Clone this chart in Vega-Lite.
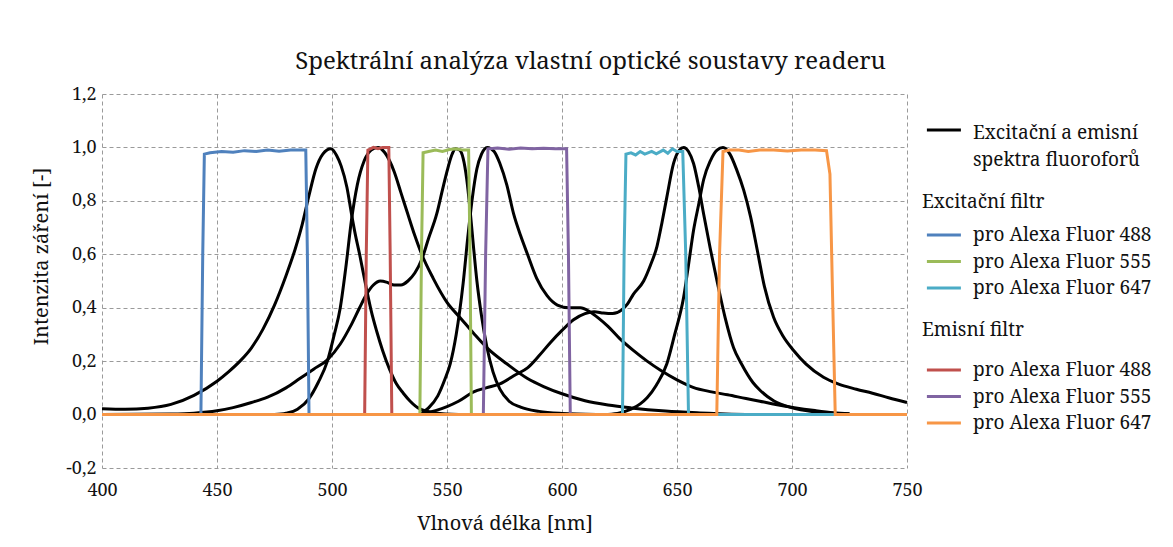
{
  "$schema": "https://vega.github.io/schema/vega-lite/v6.json",
  "width": 805,
  "height": 374,
  "autosize": "none",
  "padding": {"left": 102, "top": 94, "right": 266, "bottom": 79},
  "background": "white",
  "title": {"text": "Spektrální analýza vlastní optické soustavy readeru", "font": "Noto Serif", "fontSize": 24, "fontWeight": "normal", "color": "#111111", "anchor": "middle", "dx": 86, "baseline": "alphabetic", "offset": 29, "dy": 37},
  "datasets": {
    "spectra": [
      {"s":"e488","x":400,"y":0.022},{"s":"e488","x":410,"y":0.02},{"s":"e488","x":420,"y":0.024},{"s":"e488","x":430,"y":0.038},{"s":"e488","x":440,"y":0.072},{"s":"e488","x":450,"y":0.125},{"s":"e488","x":455,"y":0.16},{"s":"e488","x":460,"y":0.2},{"s":"e488","x":465,"y":0.25},{"s":"e488","x":470,"y":0.32},{"s":"e488","x":475,"y":0.41},{"s":"e488","x":480,"y":0.52},{"s":"e488","x":484,"y":0.62},{"s":"e488","x":487,"y":0.71},{"s":"e488","x":490,"y":0.82},{"s":"e488","x":493,"y":0.92},{"s":"e488","x":496,"y":0.975},{"s":"e488","x":499.5,"y":0.995},{"s":"e488","x":502,"y":0.97},{"s":"e488","x":504,"y":0.93},{"s":"e488","x":506.5,"y":0.85},{"s":"e488","x":508.5,"y":0.75},{"s":"e488","x":510,"y":0.68},{"s":"e488","x":512,"y":0.6},{"s":"e488","x":515,"y":0.47},{"s":"e488","x":517,"y":0.39},{"s":"e488","x":519.5,"y":0.31},{"s":"e488","x":522,"y":0.24},{"s":"e488","x":525,"y":0.17},{"s":"e488","x":528,"y":0.115},{"s":"e488","x":531,"y":0.08},{"s":"e488","x":534,"y":0.05},{"s":"e488","x":538,"y":0.022},{"s":"e488","x":545,"y":0.006},{"s":"e488","x":555,"y":0.0},
      {"s":"m488","x":475,"y":0.0},{"s":"m488","x":480,"y":0.005},{"s":"m488","x":485,"y":0.02},{"s":"m488","x":490,"y":0.06},{"s":"m488","x":494,"y":0.12},{"s":"m488","x":498,"y":0.2},{"s":"m488","x":501,"y":0.3},{"s":"m488","x":503.6,"y":0.4},{"s":"m488","x":506,"y":0.55},{"s":"m488","x":508.5,"y":0.73},{"s":"m488","x":511,"y":0.86},{"s":"m488","x":514,"y":0.95},{"s":"m488","x":517,"y":0.99},{"s":"m488","x":520,"y":1.0},{"s":"m488","x":523,"y":0.98},{"s":"m488","x":527,"y":0.91},{"s":"m488","x":530,"y":0.83},{"s":"m488","x":532.6,"y":0.76},{"s":"m488","x":536,"y":0.67},{"s":"m488","x":539,"y":0.6},{"s":"m488","x":544,"y":0.51},{"s":"m488","x":550,"y":0.42},{"s":"m488","x":556,"y":0.36},{"s":"m488","x":562,"y":0.3},{"s":"m488","x":568,"y":0.245},{"s":"m488","x":576,"y":0.19},{"s":"m488","x":585,"y":0.135},{"s":"m488","x":592,"y":0.105},{"s":"m488","x":600,"y":0.078},{"s":"m488","x":610,"y":0.052},{"s":"m488","x":620,"y":0.036},{"s":"m488","x":630,"y":0.025},{"s":"m488","x":645,"y":0.013},{"s":"m488","x":660,"y":0.006},{"s":"m488","x":680,"y":0.0},
      {"s":"e555","x":400,"y":0.0},{"s":"e555","x":430,"y":0.002},{"s":"e555","x":440,"y":0.005},{"s":"e555","x":450,"y":0.014},{"s":"e555","x":457,"y":0.026},{"s":"e555","x":465,"y":0.045},{"s":"e555","x":472,"y":0.065},{"s":"e555","x":480,"y":0.1},{"s":"e555","x":486,"y":0.135},{"s":"e555","x":492,"y":0.17},{"s":"e555","x":498,"y":0.205},{"s":"e555","x":503.6,"y":0.264},{"s":"e555","x":508,"y":0.33},{"s":"e555","x":512,"y":0.4},{"s":"e555","x":515,"y":0.45},{"s":"e555","x":518,"y":0.485},{"s":"e555","x":521,"y":0.5},{"s":"e555","x":524,"y":0.495},{"s":"e555","x":527,"y":0.485},{"s":"e555","x":530,"y":0.485},{"s":"e555","x":533,"y":0.5},{"s":"e555","x":536,"y":0.53},{"s":"e555","x":539,"y":0.58},{"s":"e555","x":542,"y":0.66},{"s":"e555","x":545.5,"y":0.75},{"s":"e555","x":548,"y":0.84},{"s":"e555","x":550,"y":0.91},{"s":"e555","x":552,"y":0.97},{"s":"e555","x":553.8,"y":0.995},{"s":"e555","x":555.5,"y":0.99},{"s":"e555","x":557,"y":0.96},{"s":"e555","x":558.6,"y":0.88},{"s":"e555","x":560.1,"y":0.76},{"s":"e555","x":561.5,"y":0.63},{"s":"e555","x":563,"y":0.5},{"s":"e555","x":565,"y":0.37},{"s":"e555","x":567.4,"y":0.25},{"s":"e555","x":570,"y":0.16},{"s":"e555","x":573,"y":0.095},{"s":"e555","x":577,"y":0.05},{"s":"e555","x":582,"y":0.028},{"s":"e555","x":590,"y":0.012},{"s":"e555","x":600,"y":0.004},{"s":"e555","x":615,"y":0.0},
      {"s":"m555","x":538,"y":0.0},{"s":"m555","x":542,"y":0.025},{"s":"m555","x":546,"y":0.07},{"s":"m555","x":549,"y":0.13},{"s":"m555","x":551.4,"y":0.19},{"s":"m555","x":554,"y":0.3},{"s":"m555","x":557,"y":0.49},{"s":"m555","x":559,"y":0.66},{"s":"m555","x":561,"y":0.81},{"s":"m555","x":563,"y":0.92},{"s":"m555","x":565,"y":0.975},{"s":"m555","x":567.5,"y":1.0},{"s":"m555","x":570.5,"y":0.985},{"s":"m555","x":573,"y":0.94},{"s":"m555","x":576,"y":0.86},{"s":"m555","x":579,"y":0.75},{"s":"m555","x":582,"y":0.67},{"s":"m555","x":585,"y":0.6},{"s":"m555","x":589,"y":0.51},{"s":"m555","x":593.5,"y":0.445},{"s":"m555","x":598,"y":0.41},{"s":"m555","x":603,"y":0.4},{"s":"m555","x":608,"y":0.4},{"s":"m555","x":612,"y":0.385},{"s":"m555","x":616,"y":0.36},{"s":"m555","x":620,"y":0.33},{"s":"m555","x":625,"y":0.285},{"s":"m555","x":631,"y":0.24},{"s":"m555","x":637,"y":0.2},{"s":"m555","x":643,"y":0.165},{"s":"m555","x":650,"y":0.13},{"s":"m555","x":657,"y":0.102},{"s":"m555","x":665,"y":0.085},{"s":"m555","x":672,"y":0.074},{"s":"m555","x":680,"y":0.06},{"s":"m555","x":686,"y":0.05},{"s":"m555","x":693,"y":0.038},{"s":"m555","x":701,"y":0.026},{"s":"m555","x":710,"y":0.015},{"s":"m555","x":718,"y":0.007},{"s":"m555","x":725,"y":0.003},
      {"s":"e647","x":538,"y":0.0},{"s":"e647","x":545,"y":0.015},{"s":"e647","x":550,"y":0.03},{"s":"e647","x":555,"y":0.05},{"s":"e647","x":561.6,"y":0.085},{"s":"e647","x":567,"y":0.1},{"s":"e647","x":573,"y":0.115},{"s":"e647","x":580,"y":0.15},{"s":"e647","x":585,"y":0.175},{"s":"e647","x":590,"y":0.22},{"s":"e647","x":595,"y":0.27},{"s":"e647","x":600,"y":0.315},{"s":"e647","x":605,"y":0.355},{"s":"e647","x":610,"y":0.378},{"s":"e647","x":614,"y":0.385},{"s":"e647","x":618,"y":0.38},{"s":"e647","x":622,"y":0.378},{"s":"e647","x":626,"y":0.392},{"s":"e647","x":628.5,"y":0.414},{"s":"e647","x":631,"y":0.45},{"s":"e647","x":635.5,"y":0.5},{"s":"e647","x":638.5,"y":0.56},{"s":"e647","x":641.3,"y":0.63},{"s":"e647","x":643.5,"y":0.72},{"s":"e647","x":645.6,"y":0.815},{"s":"e647","x":648.5,"y":0.94},{"s":"e647","x":651,"y":0.99},{"s":"e647","x":652.9,"y":1.0},{"s":"e647","x":655,"y":0.985},{"s":"e647","x":657.2,"y":0.94},{"s":"e647","x":659.5,"y":0.85},{"s":"e647","x":661.6,"y":0.75},{"s":"e647","x":664.5,"y":0.62},{"s":"e647","x":667.4,"y":0.5},{"s":"e647","x":671,"y":0.36},{"s":"e647","x":674.6,"y":0.25},{"s":"e647","x":678,"y":0.19},{"s":"e647","x":683,"y":0.12},{"s":"e647","x":686.2,"y":0.09},{"s":"e647","x":692,"y":0.052},{"s":"e647","x":699.3,"y":0.027},{"s":"e647","x":710,"y":0.01},{"s":"e647","x":718,"y":0.005},{"s":"e647","x":725,"y":0.002},
      {"s":"m647","x":620,"y":0.0},{"s":"m647","x":625,"y":0.006},{"s":"m647","x":630,"y":0.02},{"s":"m647","x":634,"y":0.04},{"s":"m647","x":637,"y":0.063},{"s":"m647","x":641,"y":0.11},{"s":"m647","x":645.6,"y":0.19},{"s":"m647","x":649,"y":0.3},{"s":"m647","x":652.9,"y":0.44},{"s":"m647","x":655,"y":0.56},{"s":"m647","x":657.2,"y":0.69},{"s":"m647","x":659.5,"y":0.79},{"s":"m647","x":661.6,"y":0.88},{"s":"m647","x":664.5,"y":0.95},{"s":"m647","x":667.4,"y":0.99},{"s":"m647","x":670,"y":1.0},{"s":"m647","x":673,"y":0.975},{"s":"m647","x":676,"y":0.915},{"s":"m647","x":679,"y":0.84},{"s":"m647","x":682,"y":0.74},{"s":"m647","x":684.8,"y":0.62},{"s":"m647","x":688,"y":0.48},{"s":"m647","x":692,"y":0.364},{"s":"m647","x":696,"y":0.295},{"s":"m647","x":700.7,"y":0.24},{"s":"m647","x":706,"y":0.19},{"s":"m647","x":713.7,"y":0.14},{"s":"m647","x":720,"y":0.115},{"s":"m647","x":728,"y":0.095},{"s":"m647","x":735,"y":0.08},{"s":"m647","x":742,"y":0.063},{"s":"m647","x":750,"y":0.045}
    ],
    "exc": [
      {"f":"488","x":400,"y":0},{"f":"488","x":443,"y":0},{"f":"488","x":443.8,"y":0.6},{"f":"488","x":444.5,"y":0.975},{"f":"488","x":447,"y":0.98},{"f":"488","x":452,"y":0.985},{"f":"488","x":457,"y":0.982},{"f":"488","x":462,"y":0.988},{"f":"488","x":467,"y":0.985},{"f":"488","x":472,"y":0.99},{"f":"488","x":477,"y":0.986},{"f":"488","x":482,"y":0.99},{"f":"488","x":487,"y":0.99},{"f":"488","x":488.6,"y":0.99},{"f":"488","x":489.3,"y":0.6},{"f":"488","x":490,"y":0},{"f":"488","x":750,"y":0},
      {"f":"555","x":400,"y":0},{"f":"555","x":538.2,"y":0},{"f":"555","x":538.9,"y":0.6},{"f":"555","x":539.6,"y":0.98},{"f":"555","x":542,"y":0.985},{"f":"555","x":545,"y":0.99},{"f":"555","x":548,"y":0.985},{"f":"555","x":551,"y":0.992},{"f":"555","x":554,"y":0.995},{"f":"555","x":557,"y":0.99},{"f":"555","x":559.4,"y":0.99},{"f":"555","x":560,"y":0.6},{"f":"555","x":560.6,"y":0},{"f":"555","x":750,"y":0},
      {"f":"647","x":400,"y":0},{"f":"647","x":626.3,"y":0},{"f":"647","x":627,"y":0.6},{"f":"647","x":627.8,"y":0.975},{"f":"647","x":630,"y":0.98},{"f":"647","x":632,"y":0.972},{"f":"647","x":634,"y":0.985},{"f":"647","x":636,"y":0.975},{"f":"647","x":639,"y":0.985},{"f":"647","x":641,"y":0.976},{"f":"647","x":644,"y":0.99},{"f":"647","x":646,"y":0.978},{"f":"647","x":648,"y":0.995},{"f":"647","x":650,"y":0.985},{"f":"647","x":652.5,"y":0.985},{"f":"647","x":653.8,"y":0.6},{"f":"647","x":655,"y":0},{"f":"647","x":750,"y":0}
    ],
    "em": [
      {"f":"488","x":400,"y":0},{"f":"488","x":514.2,"y":0},{"f":"488","x":514.9,"y":0.6},{"f":"488","x":515.6,"y":0.99},{"f":"488","x":518,"y":1.0},{"f":"488","x":520,"y":0.995},{"f":"488","x":522,"y":1.0},{"f":"488","x":524.7,"y":1.0},{"f":"488","x":525.3,"y":0.6},{"f":"488","x":526,"y":0},{"f":"488","x":660,"y":0},
      {"f":"555","x":400,"y":0},{"f":"555","x":565.8,"y":0},{"f":"555","x":566.8,"y":0.6},{"f":"555","x":567.8,"y":0.995},{"f":"555","x":572,"y":0.998},{"f":"555","x":577,"y":0.993},{"f":"555","x":582,"y":0.998},{"f":"555","x":587,"y":0.995},{"f":"555","x":592,"y":0.997},{"f":"555","x":597,"y":0.995},{"f":"555","x":602,"y":0.995},{"f":"555","x":602.8,"y":0.6},{"f":"555","x":603.6,"y":0},{"f":"555","x":660,"y":0},
      {"f":"647","x":400,"y":0},{"f":"647","x":667.3,"y":0},{"f":"647","x":668.5,"y":0.6},{"f":"647","x":670,"y":0.985},{"f":"647","x":673,"y":0.99},{"f":"647","x":677,"y":0.99},{"f":"647","x":681,"y":0.985},{"f":"647","x":686,"y":0.99},{"f":"647","x":692,"y":0.99},{"f":"647","x":698,"y":0.987},{"f":"647","x":704,"y":0.99},{"f":"647","x":710,"y":0.99},{"f":"647","x":715,"y":0.988},{"f":"647","x":716.5,"y":0.9},{"f":"647","x":717.5,"y":0.5},{"f":"647","x":718.8,"y":0},{"f":"647","x":750,"y":0}
    ]
  },
  "layer": [
    {
      "data": {"name": "spectra"},
      "mark": {"type": "line", "strokeWidth": 3, "interpolate": "monotone"},
      "encoding": {
        "x": {"field": "x", "type": "quantitative", "scale": {"domain": [400, 750], "nice": false, "zero": false},
              "axis": {"title": "Vlnová délka [nm]", "values": [400, 450, 500, 550, 600, 650, 700, 750], "labelPadding": 13, "titleX": 402.5, "titleY": 61.5, "titleBaseline": "alphabetic", "titleAlign": "center"}},
        "y": {"field": "y", "type": "quantitative", "scale": {"domain": [-0.2, 1.2], "nice": false, "zero": false},
              "axis": {"title": "Intenzita záření [-]", "values": [-0.2, 0, 0.2, 0.4, 0.6, 0.8, 1.0, 1.2], "labelExpr": "replace(replace(format(datum.value, '.1f'), '.', ','), '\u2212', '-')", "labelPadding": 6, "titleX": -55, "titleY": 162, "titleBaseline": "alphabetic", "titleAlign": "center", "titleAngle": 270}},
        "detail": {"field": "s"},
        "color": {"datum": "Excitační a emisní|spektra fluoroforů", "type": "nominal", "scale": {"range": ["#000000"]},
                  "legend": {"title": null, "legendX": 820, "legendY": 26, "labelExpr": "split(datum.label, '|')", "encode": {"labels": {"update": {"lineHeight": {"value": 27}, "dy": {"value": 2.5}}}}}}
      }
    },
    {
      "data": {"name": "exc"},
      "mark": {"type": "line", "strokeWidth": 3},
      "encoding": {
        "x": {"field": "x", "type": "quantitative"},
        "y": {"field": "y", "type": "quantitative"},
        "color": {"field": "f", "type": "nominal", "scale": {"domain": ["488", "555", "647"], "range": ["#4F81BD", "#9BBB59", "#4BACC6"]},
                  "legend": {"title": "Excitační filtr", "legendX": 820, "legendY": 99, "titlePadding": 13, "labelExpr": "'pro Alexa Fluor ' + datum.label"}}
      }
    },
    {
      "data": {"name": "em"},
      "mark": {"type": "line", "strokeWidth": 3},
      "encoding": {
        "x": {"field": "x", "type": "quantitative"},
        "y": {"field": "y", "type": "quantitative"},
        "color": {"field": "f", "type": "nominal", "scale": {"domain": ["488", "555", "647"], "range": ["#C0504D", "#8064A2", "#F79646"]},
                  "legend": {"title": "Emisní filtr", "legendX": 820, "legendY": 227, "titlePadding": 20, "labelExpr": "'pro Alexa Fluor ' + datum.label"}}
      }
    }
  ],
  "resolve": {"scale": {"color": "independent"}},
  "config": {
    "view": {"stroke": null},
    "font": "Noto Serif",
    "axis": {"labelFont": "Noto Serif", "labelFontSize": 18, "labelColor": "#111111", "titleFont": "Noto Serif", "titleFontSize": 20, "titleFontWeight": "normal", "titleColor": "#111111", "grid": true, "gridColor": "#9a9a9a", "gridDash": [4, 3], "gridWidth": 1, "domain": false, "ticks": false, "labelFlush": false, "labelOverlap": false},
    "legend": {"orient": "none", "symbolType": "M-0.6,0H3.4", "symbolSize": 289, "symbolStrokeWidth": 3, "labelFont": "Noto Serif", "labelFontSize": 19, "labelColor": "#111111", "titleFont": "Noto Serif", "titleFontSize": 19, "titleFontWeight": "normal", "titleColor": "#111111", "padding": 0, "rowPadding": 6.5, "labelOffset": 31, "labelLimit": 400}
  }
}
